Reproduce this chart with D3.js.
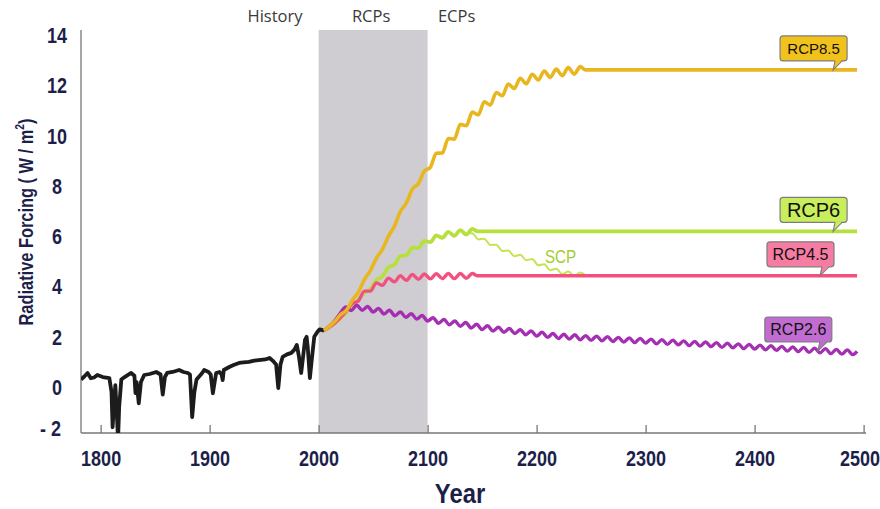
<!DOCTYPE html>
<html><head><meta charset="utf-8">
<script src="https://cdn.jsdelivr.net/npm/d3@7"></script>
<style>html,body{margin:0;padding:0;background:#fff;} svg{display:block;}</style>
</head><body><svg id="chart" width="880" height="509"></svg>
<script>
// ---------- data ----------
const xTicks = [1800, 1900, 2000, 2100, 2200, 2300, 2400, 2500];
const yTicks = [-2, 0, 2, 4, 6, 8, 10, 12, 14];
const periodLabels = ["History", "RCPs", "ECPs"];
const rcpPeriod = [2000, 2100];

const history = [
[1782,0.30],[1785,0.42],[1788,0.56],[1791,0.35],[1794,0.38],[1797,0.48],[1802,0.40],[1808,0.36],
[1810,-0.2],[1811,-1.6],[1812.5,-0.5],[1813.5,0.08],[1815,-1.2],[1816,-2.1],[1817,-0.8],[1819,0.30],
[1822,0.40],[1828,0.56],[1831,0.45],[1832,-0.24],[1833,0.2],[1835,-0.65],[1837,0.2],[1840,0.48],
[1845,0.52],[1851,0.60],[1855,0.5],[1857,-0.3],[1859,0.4],[1861,0.56],[1866,0.6],[1872,0.68],
[1876,0.6],[1880,0.56],[1882,0.5],[1884,-1.2],[1886,-0.2],[1888,0.3],[1890,0.4],[1893,0.55],
[1895,0.68],[1899,0.6],[1901,0.5],[1903,-0.25],[1905,0.3],[1906,0.56],[1909,0.6],[1911,0.5],
[1912,0.28],[1913,0.68],[1918,0.80],[1922,0.88],[1927,0.96],[1931,0.98],[1936,1.0],[1941,1.05],
[1947,1.08],[1951,1.1],[1955,1.16],[1959,1.0],[1961,0.9],[1963,-0.04],[1965,0.9],[1967,1.2],
[1971,1.3],[1975,1.36],[1978,1.5],[1980,1.68],[1982,1.2],[1984,0.56],[1986,1.3],[1987.5,1.88],
[1989,2.0],[1990,1.6],[1992,0.36],[1993.5,1.0],[1996,2.0],[1999,2.2],[2001,2.3],[2005,2.25]
];

const rcp85 = [
[2005,2.25],[2010,2.42],[2015,2.62],[2020,2.88],[2025.5,3.05],[2031,3.46],[2036.5,3.78],[2042,4.28],
[2047.5,4.64],[2053,5.13],[2058.5,5.48],[2064,6.00],[2069.5,6.40],[2075,6.99],[2080.5,7.33],[2086,7.88],
[2091.5,8.10],[2097,8.60],[2102.5,8.75],[2108,9.31],[2113.5,9.32],[2119,9.90],[2124.5,9.87],[2130,10.46],
[2135.5,10.41],[2141,10.95],[2146.5,10.84],[2152,11.36],[2157.5,11.23],[2163,11.73],[2168.5,11.60],
[2174,12.07],[2179.5,11.89],[2185,12.30],[2190.5,12.08],[2196,12.46],[2201.5,12.23],[2207,12.59],
[2212.5,12.33],[2218,12.66],[2223.5,12.40],[2229,12.72],[2234.5,12.46],[2240,12.76],[2245,12.63],[2494,12.63]
];

const rcp6 = [
[2005,2.25],[2015,2.55],[2025,2.95],[2035,3.4],[2042,3.76],[2047.5,3.92],[2053,4.26],[2058.5,4.40],
[2064,4.77],[2069.5,4.87],[2075,5.22],[2080.5,5.25],[2086,5.55],[2091.5,5.54],[2097,5.82],[2102.5,5.77],
[2108,6.04],[2113.5,5.94],[2119,6.18],[2124.5,6.02],[2130,6.25],[2135.5,6.07],[2141,6.30],[2146,6.2],[2494,6.2]
];

const scp = [
[2130,6.25],[2135.5,6.12],[2141,6.13],[2146.5,5.88],[2152,5.91],[2157.5,5.66],[2163,5.67],[2168.5,5.42],
[2174,5.44],[2179.5,5.21],[2185,5.27],[2190.5,5.05],[2196,5.10],[2201.5,4.85],[2207,4.89],[2212.5,4.65],
[2218,4.71],[2223.5,4.50],[2229,4.60],[2234.5,4.43],[2240,4.56],[2244,4.48]
];

const rcp45 = [
[2005,2.25],[2015,2.55],[2025,3.0],[2031,3.33],[2036.5,3.43],[2042,3.82],[2047.5,3.82],[2053,4.15],
[2058.5,4.05],[2064,4.34],[2069.5,4.19],[2075,4.43],[2080.5,4.25],[2086,4.48],[2091.5,4.29],[2097,4.50],
[2102.5,4.31],[2108,4.51],[2113.5,4.32],[2119,4.52],[2124.5,4.32],[2130,4.52],[2135.5,4.33],[2141,4.52],
[2146,4.43],[2494,4.43]
];

const rcp26 = [
[2005,2.25],[2015,2.65],[2020,2.95],[2025,3.19],[2030,3.05],[2035,3.26],[2040,3.06],[2045,3.21],
[2050,2.99],[2055,3.13],[2060,2.91],[2065,3.06],[2070,2.84],[2075,2.99],[2080,2.78],[2085,2.92],
[2090,2.71],[2095,2.85],[2100,2.63],[2105,2.76],[2110,2.54],[2115,2.69],[2120,2.48],[2125,2.63],
[2130,2.42],[2135,2.57],[2140,2.35],[2145,2.50],[2150,2.29],[2155,2.44],[2160,2.23],[2165,2.38],
[2170,2.18],[2175,2.33],[2180,2.13],[2185,2.28],[2190,2.08],[2195,2.23],[2200,2.03],[2205,2.18],
[2210,1.98],[2215,2.13],[2220,1.93],[2225,2.10],[2230,1.91],[2235,2.08],[2240,1.88],[2245,2.05],
[2250,1.86],[2255,2.03],[2260,1.84],[2265,2.01],[2270,1.81],[2275,1.98],[2280,1.79],[2285,1.96],
[2290,1.77],[2295,1.94],[2300,1.75],[2305,1.91],[2310,1.72],[2315,1.89],[2320,1.70],[2325,1.87],
[2330,1.68],[2335,1.84],[2340,1.65],[2345,1.82],[2350,1.63],[2355,1.80],[2360,1.61],[2365,1.77],
[2370,1.58],[2375,1.75],[2380,1.56],[2385,1.72],[2390,1.53],[2395,1.70],[2400,1.51],[2405,1.67],
[2410,1.48],[2415,1.65],[2420,1.46],[2425,1.62],[2430,1.43],[2435,1.60],[2440,1.41],[2445,1.58],
[2450,1.38],[2455,1.55],[2460,1.36],[2465,1.53],[2470,1.33],[2475,1.50],[2480,1.31],[2485,1.48],
[2490,1.29],[2494,1.42]
];

// label names and the year where each callout points
const labelNames = ["RCP8.5", "RCP6", "RCP4.5", "RCP2.6"];
const labelYears = [2472, 2472, 2460, 2458];

// ---------- drawing ----------
const svg = d3.select("#chart");
const x = d3.scaleLinear().domain([1782, 2500]).range([81, 863.6]);
const y = d3.scaleLinear().domain([-1.83, 14.22]).range([433, 30]);
const navy = "#1d1f4b";
const sans = "'Liberation Sans',Arial,Helvetica,sans-serif";
const squeeze = 0.8;

svg.append("defs").append("clipPath").attr("id", "plot")
  .append("rect").attr("x", 81).attr("y", 30).attr("width", 790).attr("height", 403);

// shaded RCP period
svg.append("rect")
  .attr("x", x(rcpPeriod[0])).attr("y", y.range()[1])
  .attr("width", x(rcpPeriod[1]) - x(rcpPeriod[0]))
  .attr("height", y.range()[0] - y.range()[1])
  .attr("fill", "#d0cdd2");

// period labels
const periodX = [275, (x(2000) + x(2100)) / 2 - 2, x(2100) + 29];
svg.selectAll("text.period").data(periodLabels).join("text")
  .attr("class", "period")
  .attr("x", (d, i) => periodX[i]).attr("y", 22)
  .attr("text-anchor", "middle")
  .attr("font-family", "'Open Sans',sans-serif").attr("font-size", 16.5)
  .attr("fill", "#3a3a3a").text(d => d);

// axes
const xAxis = d3.axisBottom(x).tickValues(xTicks).tickSize(-8).tickPadding(17).tickFormat(d3.format("d"));
const gx = svg.append("g").attr("transform", "translate(0,433)").call(xAxis);
gx.select(".domain").remove();
gx.selectAll(".tick line").attr("stroke", "#777").attr("stroke-width", 1.3);
gx.selectAll(".tick text").attr("font-family", sans).attr("font-weight", "bold")
  .attr("font-size", 22.5).attr("fill", navy)
  .attr("transform", (d, i, n) => `translate(${i === n.length - 1 ? -4 : 0},0) scale(${squeeze},1)`);
svg.append("line").attr("x1", 81).attr("x2", 866).attr("y1", 433).attr("y2", 433)
  .attr("stroke", "#777").attr("stroke-width", 1.5);

const yAxis = d3.axisLeft(y).tickValues(yTicks.filter(v => v >= y.domain()[0]))
  .tickSize(0).tickPadding(0).tickFormat(d => d);
const gy = svg.append("g").attr("transform", "translate(81,0)").call(yAxis);
gy.select(".domain").remove();
gy.selectAll(".tick text").attr("font-family", sans).attr("font-weight", "bold")
  .attr("font-size", 22.5).attr("fill", navy).attr("text-anchor", "middle")
  .attr("x", 0).attr("transform", `translate(-24,0) scale(${squeeze},1)`);
// the -2 label sits just above the axis bottom
yTicks.filter(v => v < y.domain()[0]).forEach(v => {
  svg.append("text").attr("transform", `translate(61,${Math.min(y(v), 433) - 4}) scale(${squeeze},1)`)
    .attr("dy", "0.32em").attr("text-anchor", "end")
    .attr("font-family", sans).attr("font-weight", "bold").attr("font-size", 22.5)
    .attr("fill", navy).text("- " + Math.abs(v));
});
svg.append("line").attr("x1", 81).attr("x2", 81).attr("y1", 30).attr("y2", 433)
  .attr("stroke", "#888").attr("stroke-width", 1.5);

// axis titles
svg.append("text").attr("transform", "translate(460,503) scale(0.85,1)").attr("text-anchor", "middle")
  .attr("font-family", sans).attr("font-weight", "bold").attr("font-size", 28)
  .attr("fill", navy).text("Year");
const yt = svg.append("text").attr("transform", "translate(33,222) rotate(-90) scale(0.8,1)")
  .attr("text-anchor", "middle").attr("font-family", sans).attr("font-weight", "bold")
  .attr("font-size", 20.5).attr("fill", navy);
yt.append("tspan").text("Radiative Forcing ( W / m");
yt.append("tspan").attr("dy", -9).attr("font-size", 13).text("2");
yt.append("tspan").attr("dy", 9).text(")");

// lines
const wavy = d3.line().x(d => x(d[0])).y(d => y(d[1])).curve(d3.curveMonotoneX);
const plain = d3.line().x(d => x(d[0])).y(d => y(d[1]));
const gl = svg.append("g").attr("clip-path", "url(#plot)");
gl.append("path").datum(history).attr("d", plain).attr("fill", "none")
  .attr("stroke", "#1c1c1c").attr("stroke-width", 3.8).attr("stroke-linejoin", "round");
const series = [
  {data: scp, color: "#c3e553", w: 2},
  {data: rcp6, color: "#b6e03c", w: 3.8},
  {data: rcp45, color: "#f2517f", w: 3.4},
  {data: rcp26, color: "#a42fb2", w: 3.4},
  {data: rcp85, color: "#e8b61f", w: 3.6}
];
series.forEach(s => {
  gl.append("path").datum(s.data).attr("d", wavy).attr("fill", "none")
    .attr("stroke", s.color).attr("stroke-width", s.w).attr("stroke-linejoin", "round");
});

// SCP label
svg.append("text").attr("transform", `translate(${x(2222)},263) scale(0.8,1)`).attr("text-anchor", "middle")
  .attr("font-family", sans).attr("font-size", 19).attr("fill", "#9fcd2e").text("SCP");

// callouts
const labelSeries = [rcp85, rcp6, rcp45, rcp26];
const labelFills = ["#f1c21c", "#c9ee5c", "#f67ca3", "#c06cd0"];
const labelSizes = [15, 20, 16, 16];
labelNames.forEach((name, i) => {
  const data = labelSeries[i];
  const yr = labelYears[i];
  const j = d3.bisector(d => d[0]).left(data, yr);
  const a = data[Math.max(0, j - 1)], b = data[Math.min(data.length - 1, j)];
  const val = b[0] === a[0] ? a[1] : a[1] + (b[1] - a[1]) * (yr - a[0]) / (b[0] - a[0]);
  const tx = x(yr), ty = y(val);
  const bw = 67, bh = 25, bx = tx + 14 - bw, by = ty - 9 - bh;
  const g = svg.append("g");
  g.append("rect").attr("x", bx).attr("y", by).attr("width", bw).attr("height", bh)
    .attr("rx", 3).attr("fill", labelFills[i]).attr("stroke", "#7d7d7d").attr("stroke-width", 1.2);
  g.append("path").attr("d", `M${tx + 2},${by + bh - 0.8} L${tx},${ty} L${tx + 9},${by + bh - 0.8} Z`)
    .attr("fill", labelFills[i]).attr("stroke", "none");
  g.append("path").attr("d", `M${tx + 2},${by + bh} L${tx},${ty} L${tx + 9},${by + bh}`)
    .attr("fill", "none").attr("stroke", "#7d7d7d").attr("stroke-width", 1.1);
  g.append("text").attr("x", bx + bw / 2).attr("y", by + bh / 2).attr("dy", "0.36em")
    .attr("text-anchor", "middle").attr("font-family", sans)
    .attr("font-size", labelSizes[i]).attr("fill", "#111").text(name);
});
</script>
</body></html>
